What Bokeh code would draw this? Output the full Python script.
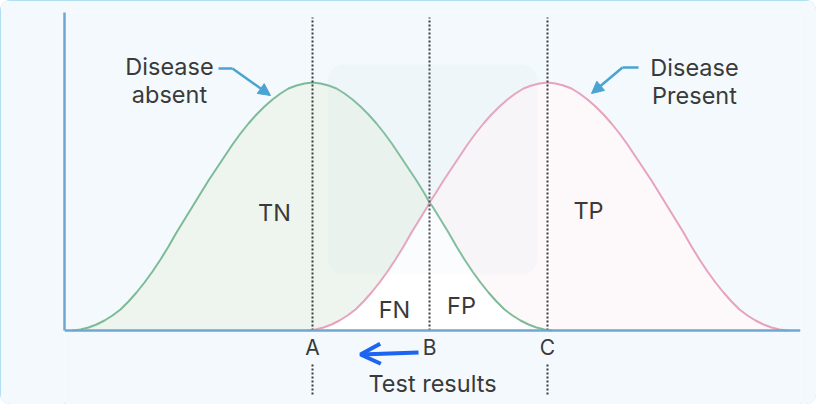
import math
from bokeh.plotting import figure
from bokeh.models import Range1d, Arrow, NormalHead, OpenHead, BoxAnnotation, FixedTicker, Label
from bokeh.embed import file_html
from bokeh.resources import INLINE

# ---- data (x = test result, y = number of people) ----
absent_x = [8, 16, 24, 32, 40, 48, 56, 64, 72, 80, 88, 96, 104, 112, 120, 128, 136, 144, 152, 160,
            168, 176, 184, 192, 200, 208, 216, 224, 232, 240, 248, 256, 264, 272, 280, 288, 296, 304,
            312, 320, 328, 336, 344, 352, 360, 365, 368, 376, 384, 392, 400, 408, 416, 424, 432, 440,
            448, 456, 464, 472, 480, 488]
absent_y = [0, 1, 3, 6, 10, 15, 21, 29, 38, 48, 59, 71, 84, 98, 111, 124, 137, 150, 162, 174,
            186, 197, 207, 216, 224, 231, 237, 242, 245, 247, 248, 247, 245, 242, 237, 231, 224, 216,
            207, 197, 186, 174, 162, 150, 137, 128, 124, 111, 98, 84, 71, 59, 48, 38, 29, 21,
            15, 10, 6, 3, 1, 0]
present_x = [243, 251, 259, 267, 275, 283, 291, 299, 307, 315, 323, 331, 339, 347, 355, 363, 365, 371,
             379, 387, 395, 403, 411, 419, 427, 435, 443, 451, 459, 467, 475, 483, 491, 499, 507, 515,
             523, 531, 539, 547, 555, 563, 571, 579, 587, 595, 603, 611, 619, 627, 635, 643, 651, 659,
             667, 675, 683, 691, 699, 707, 715, 723]
present_y = [0, 1, 3, 6, 10, 15, 21, 29, 38, 48, 59, 71, 84, 98, 111, 124, 128, 137,
             150, 162, 174, 186, 197, 207, 216, 224, 231, 237, 242, 245, 247, 248, 247, 245, 242, 237,
             231, 224, 216, 207, 197, 186, 174, 162, 150, 137, 124, 111, 98, 84, 71, 59, 48, 38,
             29, 21, 15, 10, 6, 3, 1, 0]
cutoff_names = ["A", "B", "C"]
cutoff_x = [248, 365, 483]
region_names = ["TN", "FN", "FP", "TP"]
region_x = [210, 330, 397, 524]
region_y = [118, 21, 25, 120]

BG = "#f3f9fc"
TXT = "#3a3a3a"
FONT = "Inter"
FS = "23.5px"

p = figure(width=816, height=404, output_backend="svg", toolbar_location=None,
           x_range=Range1d(0, 736), y_range=Range1d(-74, 318),
           min_border_left=64, min_border_right=16, min_border_top=12, min_border_bottom=0)
p.background_fill_color = BG
p.border_fill_color = BG
p.outline_line_color = None
p.grid.visible = False
p.styles = {"outline": "2px solid #9dd5ee", "outline-offset": "-2px",
            "border-radius": "10px", "overflow": "hidden"}

# axes
for ax in (p.xaxis[0], p.yaxis[0]):
    ax.axis_line_color = "#6ea8d2"
    ax.axis_line_width = 2.5
    ax.major_tick_line_color = None
    ax.minor_tick_line_color = None
    ax.major_tick_out = 0
    ax.major_tick_in = 0
    ax.axis_label_text_font = FONT
    ax.axis_label_text_font_style = "normal"
    ax.axis_label_text_color = TXT
    ax.axis_label_text_font_size = FS
    ax.major_label_text_font = FONT
    ax.major_label_text_color = TXT
    ax.major_label_text_font_size = "21px"
p.yaxis.ticker = FixedTicker(ticks=[])
p.yaxis.bounds = (0, 318)
p.xaxis.fixed_location = 0
p.xaxis.ticker = FixedTicker(ticks=cutoff_x)
p.xaxis.major_label_overrides = {x: n for x, n in zip(cutoff_x, cutoff_names)}
p.xaxis.major_label_standoff = 4
p.xaxis.axis_label = "Test results"
p.xaxis.axis_label_standoff = 6
p.add_layout(Label(x=-38, y=159, text="Number of People", angle=math.pi / 2, text_align="center",
                   text_baseline="middle", text_font=FONT, text_font_size=FS, text_color=TXT))

# filled regions
ib_a = absent_x.index(cutoff_x[1])
ib_p = present_x.index(cutoff_x[1])
green_px = absent_x[:ib_a + 1] + present_x[:ib_p][::-1]
green_py = absent_y[:ib_a + 1] + present_y[:ib_p][::-1]
pink_px = present_x[ib_p:] + absent_x[ib_a + 1:][::-1]
pink_py = present_y[ib_p:] + absent_y[ib_a + 1:][::-1]
white_px = present_x[:ib_p + 1] + absent_x[ib_a + 1:]
white_py = present_y[:ib_p + 1] + absent_y[ib_a + 1:]
p.patch(green_px, green_py, fill_color="#edf5ee", line_color=None)
p.patch(pink_px, pink_py, fill_color="#fdf8fa", line_color=None)
p.patch(white_px, white_py, fill_color="#ffffff", line_color=None)

p.line(absent_x, absent_y, line_color="#7dbb98", line_width=2)
p.line(present_x, present_y, line_color="#e8a2bc", line_width=2)

# faint watermark block
p.add_layout(BoxAnnotation(left=263, right=473, bottom=56, top=266, fill_color="#c6dde9",
                           fill_alpha=0.09, line_color=None, border_radius=16))

# cut-off lines
p.segment(x0=cutoff_x, y0=0, x1=cutoff_x, y1=313, line_color="#3d3d3d", line_width=2, line_dash="2 2")
ext_x = [cutoff_x[0], cutoff_x[2]]
p.segment(x0=ext_x, y0=-34, x1=ext_x, y1=-64, line_color="#3d3d3d", line_width=2, line_dash="2 2")

# region labels
for name, xv, yv in zip(region_names, region_x, region_y):
    p.add_layout(Label(x=xv, y=yv, text=name, text_align="center", text_baseline="middle",
                       text_font=FONT, text_font_size=FS, text_color=TXT))

# curve labels with arrows
for txt, xv, yv in [("Disease", 105, 264), ("absent", 105, 236), ("Disease", 630, 263), ("Present", 630, 235)]:
    p.add_layout(Label(x=xv, y=yv, text=txt, text_align="center", text_baseline="middle",
                       text_font=FONT, text_font_size=FS, text_color=TXT))
ARW = "#4aa3d3"
p.segment(x0=[154, 574], y0=[262, 263], x1=[168, 558], y1=[262, 263], line_color=ARW, line_width=2.5)
p.add_layout(Arrow(x_start=168, y_start=262, x_end=206, y_end=235, line_color=ARW, line_width=2.5,
                   end=NormalHead(size=12, fill_color=ARW, line_color=ARW)))
p.add_layout(Arrow(x_start=558, y_start=263, x_end=527, y_end=237, line_color=ARW, line_width=2.5,
                   end=NormalHead(size=12, fill_color=ARW, line_color=ARW)))

# hand-drawn blue arrow from B toward A
p.add_layout(Arrow(x_start=354, y_start=-22, x_end=296, y_end=-24, line_color="#1c64f2", line_width=4,
                   end=OpenHead(size=20, line_color="#1c64f2", line_width=4)))

open("out.html", "w").write(file_html(p, INLINE))
